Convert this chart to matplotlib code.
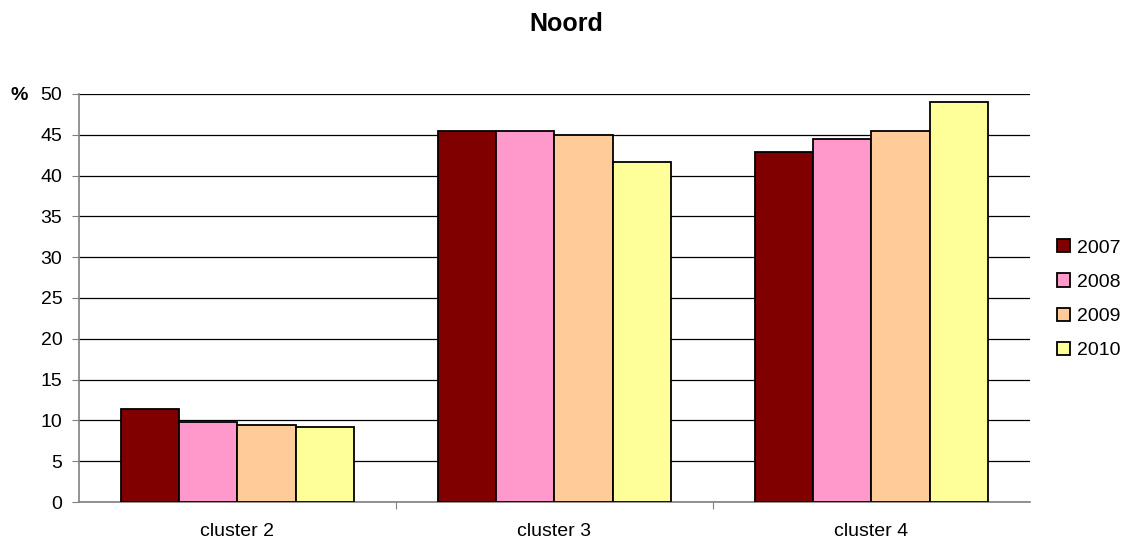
import numpy as np
import matplotlib.pyplot as plt

plt.rcParams['font.family'] = ['Liberation Sans', 'DejaVu Sans']

categories = ['cluster 2', 'cluster 3', 'cluster 4']
years = ['2007', '2008', '2009', '2010']
values = {
    '2007': [11.4, 45.5, 42.9],
    '2008': [9.8, 45.5, 44.5],
    '2009': [9.4, 45.0, 45.5],
    '2010': [9.2, 41.7, 49.0],
}
colors = ['#800000', '#ff99cc', '#ffcc99', '#ffff99']

fig = plt.figure(figsize=(11.33, 5.43), dpi=100)
ax = fig.add_axes([0.0697, 0.0755, 0.8393, 0.7515])

x = np.arange(len(categories))
bw = 0.735 / 4
for i, yr in enumerate(years):
    ax.bar(x - 0.735 / 2 + bw * (i + 0.5), values[yr], width=bw,
           color=colors[i], edgecolor='black', linewidth=1.3, label=yr, zorder=3)

ax.set_xlim(-0.5, 2.5)
ax.set_ylim(0, 50)
ax.set_yticks(range(0, 51, 5))
ax.yaxis.grid(True, color='black', linewidth=0.9, zorder=0)
ax.set_axisbelow(True)

# category separators as major ticks, names as minor ticks
ax.set_xticks([0.5, 1.5], minor=False)
ax.set_xticklabels([])
ax.set_xticks(x, minor=True)
ax.set_xticklabels(categories, minor=True)
ax.tick_params(axis='x', which='minor', length=0, pad=15, labelsize=14)
ax.tick_params(axis='x', which='major', length=5, color='#808080')
ax.tick_params(axis='y', length=5, color='#808080', labelsize=14, pad=7)

for s in ['top', 'right']:
    ax.spines[s].set_visible(False)
for s in ['left', 'bottom']:
    ax.spines[s].set_color('#808080')
    ax.spines[s].set_linewidth(1.2)

fig.text(0.5, 1 - 24 / 543, 'Noord', ha='center', va='center', fontsize=18, fontweight='bold')
fig.text(19 / 1133, 1 - 95 / 543, '%', ha='center', va='center', fontsize=14, fontweight='bold')

ax.legend(loc='center left', bbox_to_anchor=(1.01, 0.497), frameon=False,
          fontsize=14, handlelength=0.67, handleheight=0.67, handletextpad=0.35,
          labelspacing=0.86)

fig.savefig('out.png', dpi=100)
